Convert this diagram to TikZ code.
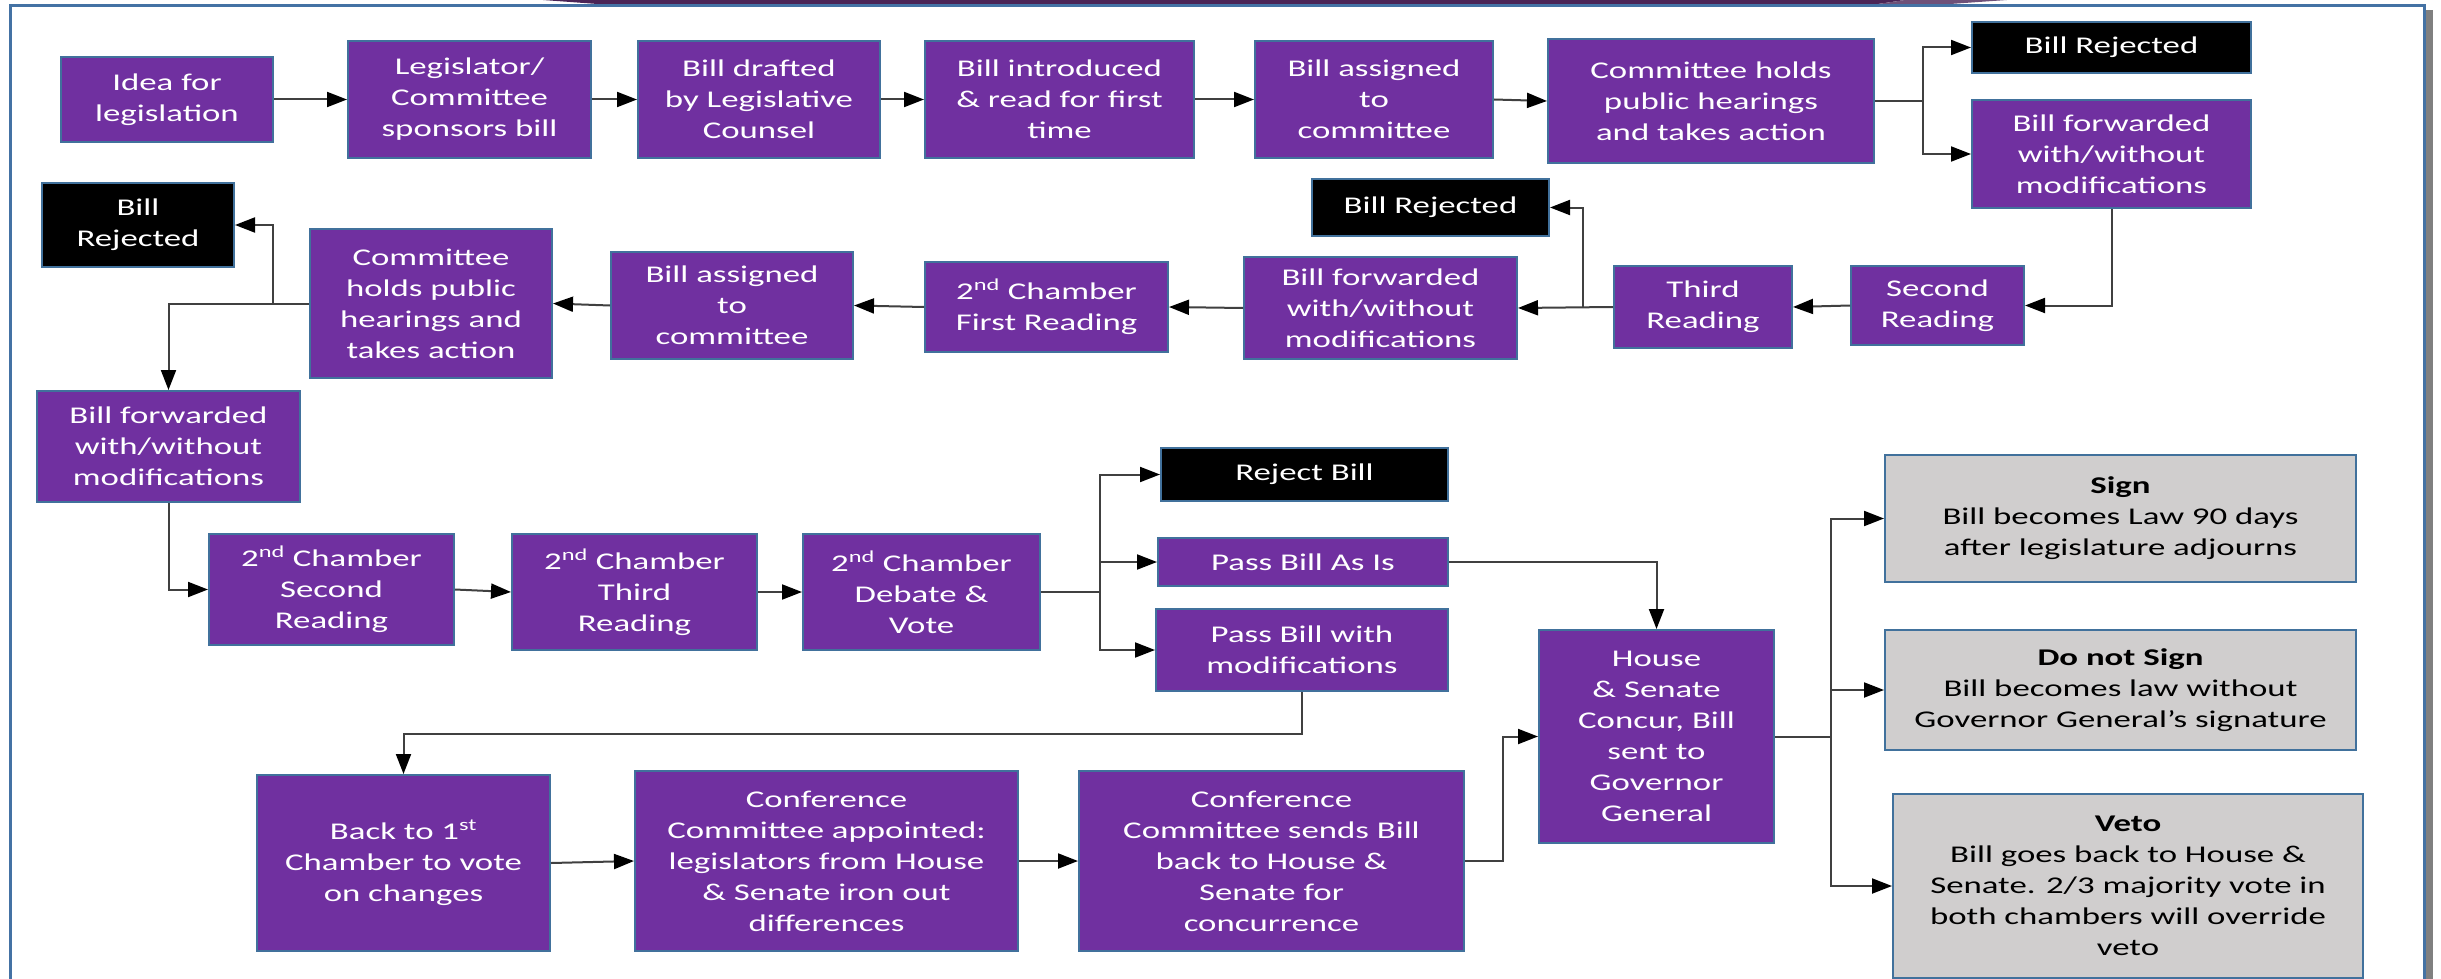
\documentclass[tikz,border=0pt]{standalone}
\usepackage{fontspec}
\setmainfont{Carlito}[FakeStretch=1.45]
\usetikzlibrary{arrows.meta}
\definecolor{purp}{HTML}{7030A0}
\definecolor{bord}{HTML}{41719C}
\definecolor{greyfill}{HTML}{D0CECE}
\definecolor{lncol}{HTML}{404040}
\definecolor{framecol}{HTML}{4472A4}
\definecolor{bandA}{HTML}{4B2456}
\definecolor{bandB}{HTML}{6A2C5E}
\definecolor{bandC}{HTML}{6E5078}
\definecolor{shadowcol}{HTML}{808080}
\begin{document}
\begin{tikzpicture}[x=1pt,y=-1pt,
  box/.style={draw=bord, line width=2pt, align=center, inner sep=0pt, font=\fontsize{24}{31}\selectfont},
  pbox/.style={box, fill=purp, text=white},
  kbox/.style={box, fill=black, text=white},
  gbox/.style={box, fill=greyfill, text=black},
  ln/.style={draw=lncol, line width=2pt},
  arr/.style={ln, -{Triangle[length=20pt,width=15pt,color=black]}},
]
\useasboundingbox[fill=white] (0,0) rectangle (2441,979);
% top band and frame
\shade[left color=bandA, middle color=bandB, right color=bandA] (543,0) -- (1905,0) -- (1873,4.7) -- (607,4.7) -- cycle;
\fill[bandC] (1873,4.7) -- (1905,0) -- (2007,0) -- (1940,4.7) -- cycle;
\fill[shadowcol] (2426,10) rectangle (2433,979);
\draw[framecol, line width=3pt] (10,979) -- (10,6) -- (2424,6) -- (2424,979);

% row 1
\node[pbox, minimum width=212pt, minimum height=85pt] (idea) at (167,99.5) {Idea for\\legislation};
\node[pbox, minimum width=243pt, minimum height=117pt] (spons) at (469.5,99.5) {Legislator/\\Committee\\sponsors bill};
\node[pbox, minimum width=242pt, minimum height=117pt] (drafted) at (759,99.5) {Bill drafted\\by Legislative\\Counsel};
\node[pbox, minimum width=269pt, minimum height=117pt] (intro) at (1059.5,99.5) {Bill introduced\\\& read for first\\time};
\node[pbox, minimum width=238pt, minimum height=117pt] (assignA) at (1374,99.5) {Bill assigned\\to\\committee};
\node[pbox, minimum width=326pt, minimum height=124pt] (hearA) at (1711,101) {Committee holds\\public hearings\\and takes action};
\node[kbox, minimum width=279pt, minimum height=51pt] (rejA) at (2111.5,47.5) {Bill Rejected};
\node[pbox, minimum width=279pt, minimum height=108pt] (fwdA) at (2111.5,154) {Bill forwarded\\with/without\\modifications};

% row 2
\node[pbox, minimum width=173pt, minimum height=79pt] (secA) at (1937.5,305.5) {Second\\Reading};
\node[pbox, minimum width=178pt, minimum height=82pt] (thirdA) at (1703,307) {Third\\Reading};
\node[pbox, minimum width=273pt, minimum height=102pt] (fwdB) at (1380.5,308) {Bill forwarded\\with/without\\modifications};
\node[kbox, minimum width=237pt, minimum height=57pt] (rejB) at (1430.5,207.5) {Bill Rejected};
\node[pbox, minimum width=243pt, minimum height=90pt] (chfirst) at (1046.5,307) {2\textsuperscript{nd} Chamber\\First Reading};
\node[pbox, minimum width=242pt, minimum height=107pt] (assignB) at (732,305.5) {Bill assigned\\to\\committee};
\node[pbox, minimum width=242pt, minimum height=149pt] (hearB) at (431,303.5) {Committee\\holds public\\hearings and\\takes action};
\node[kbox, minimum width=192pt, minimum height=84pt] (rejC) at (138,225) {Bill\\Rejected};
\node[pbox, minimum width=263pt, minimum height=111pt] (fwdC) at (168.5,446.5) {Bill forwarded\\with/without\\modifications};

% row 3
\node[pbox, minimum width=245pt, minimum height=111pt] (chsec) at (331.5,589.5) {2\textsuperscript{nd} Chamber\\Second\\Reading};
\node[pbox, minimum width=245pt, minimum height=116pt] (chthird) at (634.5,592) {2\textsuperscript{nd} Chamber\\Third\\Reading};
\node[pbox, minimum width=237pt, minimum height=116pt] (chvote) at (921.5,592) {2\textsuperscript{nd} Chamber\\Debate \&\\Vote};
\node[kbox, minimum width=287pt, minimum height=53pt] (rejbill) at (1304.5,474.5) {Reject Bill};
\node[pbox, minimum width=290pt, minimum height=48pt] (passis) at (1303,562) {Pass Bill As Is};
\node[pbox, minimum width=292pt, minimum height=82pt] (passmod) at (1302,650) {Pass Bill with\\modifications};

% row 4
\node[pbox, minimum width=293pt, minimum height=176pt] (back) at (403.5,863) {Back to 1\textsuperscript{st}\\Chamber to vote\\on changes};
\node[pbox, minimum width=383pt, minimum height=180pt] (confapp) at (826.5,861) {Conference\\Committee appointed:\\legislators from House\\\& Senate iron out\\differences};
\node[pbox, minimum width=385pt, minimum height=180pt] (confsend) at (1271.5,861) {Conference\\Committee sends Bill\\back to House \&\\Senate for\\concurrence};
\node[pbox, minimum width=235pt, minimum height=213pt] (house) at (1656.5,736.5) {House\\\& Senate\\Concur, Bill\\sent to\\Governor\\General};
\node[gbox, minimum width=471pt, minimum height=127pt] (sign) at (2120.5,518.5) {\textbf{Sign}\\Bill becomes Law 90 days\\after legislature adjourns};
\node[gbox, minimum width=471pt, minimum height=120pt] (donot) at (2120.5,690) {\textbf{Do not Sign}\\Bill becomes law without\\Governor General’s signature};
\node[gbox, minimum width=470pt, minimum height=184pt] (veto) at (2128,886) {\textbf{Veto}\\Bill goes back to House \&\\Senate. 2/3 majority vote in\\both chambers will override\\veto};

% connectors row 1
\draw[arr] (idea) -- (spons);
\draw[arr] (spons) -- (drafted);
\draw[arr] (drafted) -- (intro);
\draw[arr] (intro) -- (assignA);
\draw[arr] (assignA.east) -- (hearA.west);
\coordinate (bA) at (1923,101);
\draw[ln] (hearA.east) -- (bA);
\draw[arr] (bA) |- (rejA.west);
\draw[arr] (bA) |- (fwdA.west);
\draw[arr] (fwdA.south) |- (secA.east);
% row 2
\draw[arr] (secA.west) -- (thirdA.east);
\draw[arr] (thirdA.west) -- (fwdB.east);
\coordinate (bB) at (1583,307.5);
\draw[arr] (bB) |- (rejB.east);
\draw[arr] (fwdB.west) -- (chfirst.east);
\draw[arr] (chfirst.west) -- (assignB.east);
\draw[arr] (assignB.west) -- (hearB.east);
\draw[arr] (hearB.west) -| (fwdC.north);
\coordinate (bC) at (273,303.5);
\draw[arr] (bC) |- (rejC.east);
% row 3
\draw[arr] (fwdC.south) |- (chsec.west);
\draw[arr] (chsec.east) -- (chthird.west);
\draw[arr] (chthird.east) -- (chvote.west);
\coordinate (bD) at (1100,592);
\draw[ln] (chvote.east) -- (bD);
\draw[arr] (bD) |- (rejbill.west);
\draw[arr] (bD) |- (passis.west);
\draw[arr] (bD) |- (passmod.west);
\draw[arr] (passis.east) -| (house.north);
\coordinate (bE) at (1302,734);
\draw[arr] (passmod.south) -- (bE) -| (back.north);
% row 4
\draw[arr] (back.east) -- (confapp.west);
\draw[arr] (confapp.east) -- (confsend.west);
\coordinate (bF) at (1503,861);
\draw[arr] (confsend.east) -- (bF) |- (house.west);
\coordinate (bG) at (1831,736.5);
\draw[ln] (house.east) -- (bG);
\draw[arr] (bG) |- (sign.west);
\draw[arr] (bG) |- (donot.west);
\draw[arr] (bG) |- (veto.west);
\end{tikzpicture}
\end{document}
